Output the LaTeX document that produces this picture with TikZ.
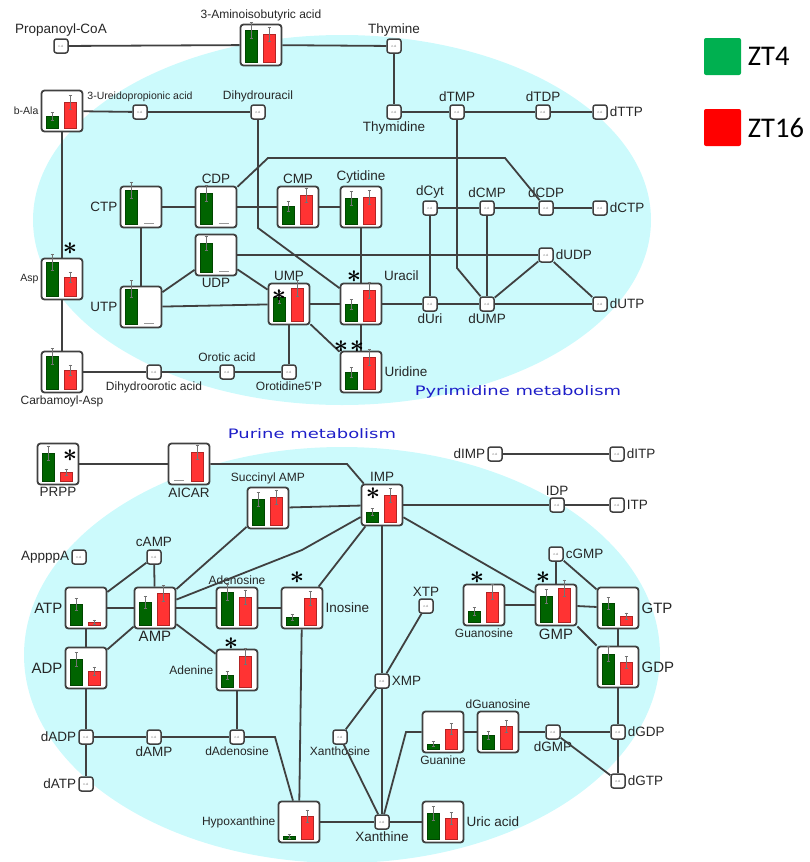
\documentclass[tikz,border=0pt]{standalone}
\usepackage{fontspec}
\setmainfont{Liberation Sans}
\newfontfamily\legendfont{Carlito}
\newfontfamily\titlefont{DejaVu Sans}
\begin{document}
\begin{tikzpicture}[x=1pt,y=-1pt,label distance=1.5pt]
  % Local definitions
  \def\onebar#1#2#3{%
    \ifnum#2=0
      \draw[zero bar] (#1+1,16.5) -- (#1+11,16.5);
    \else
      \filldraw[#3] (#1,17) rectangle (#1+12,17-#2);
      \pgfmathsetmacro\errlen{1.5+0.2*#2}
      \draw[error bar] (#1+6,17-#2-\errlen) -- (#1+6,17-#2+\errlen)
        (#1+4.5,17-#2-\errlen) -- (#1+7.5,17-#2-\errlen)
        (#1+4.5,17-#2+\errlen) -- (#1+7.5,17-#2+\errlen);
    \fi}
  \def\chart#1(#2)#3#4#5{%
    \node[chart box,#5] (#1) at (#2) {};
    \begin{scope}[shift={(#1)}]
      \onebar{-16}{#3}{green bar}
      \onebar{2}{#4}{red bar}
    \end{scope}}

  % Colors
  \definecolor{poolcolor}{RGB}{204,250,252}
  \definecolor{bargreen}{RGB}{0,100,0}
  \definecolor{barred}{RGB}{255,51,51}
  \definecolor{legendgreen}{RGB}{0,176,80}
  \definecolor{legendred}{RGB}{255,0,0}
  \definecolor{titleblue}{RGB}{30,30,200}
  \colorlet{linecolor}{black!75}

  % Styles
  \tikzstyle{every label}=[font=\fontsize{13.5}{16}\selectfont,text=black!85,inner sep=0.5pt]
  \tikzstyle{lbl med}=[font=\fontsize{12}{14}\selectfont]
  \tikzstyle{lbl small}=[font=\fontsize{10.5}{12}\selectfont]
  \tikzstyle{lbl big}=[font=\fontsize{15}{18}\selectfont]
  \tikzstyle{conn}=[draw=linecolor,line width=1.8pt]
  \tikzstyle{chart box}=[draw=linecolor,line width=1.8pt,fill=white,rounded corners=3pt,minimum size=41pt,inner sep=0pt]
  \tikzstyle{nd}=[draw=linecolor,line width=1.5pt,fill=white,rounded corners=2.5pt,minimum size=14pt,inner sep=0pt,font=\fontsize{3}{3}\selectfont,text=black!60]
  \tikzstyle{green bar}=[fill=bargreen,draw=bargreen!70!black,line width=0.4pt]
  \tikzstyle{red bar}=[fill=barred,draw=barred!70!black,line width=0.4pt]
  \tikzstyle{error bar}=[draw=black!55,line width=0.4pt]
  \tikzstyle{zero bar}=[draw=black!40,line width=0.8pt]
  \tikzstyle{signif}=[inner sep=0pt,font=\fontsize{26}{26}\selectfont\boldmath]
  \tikzstyle{pathway title}=[text=titleblue,font=\titlefont\fontsize{13}{15}\selectfont]
  \tikzstyle{legend box}=[rounded corners=2pt,minimum size=37pt,inner sep=0pt]
  \tikzstyle{legend text}=[font=\legendfont\fontsize{28.5}{32}\selectfont,text=black,inner sep=5pt]

  % The graphic
  \useasboundingbox (0,0) rectangle (809,862);
  \clip (0,0) rectangle (809,862);
  \fill[poolcolor] (342,220) ellipse [x radius=309pt,y radius=185pt];
  \fill[poolcolor] (342,655) ellipse [x radius=318pt,y radius=208pt];

  % Pyrimidine metabolism
  \node[nd,label=above:Propanoyl-CoA] (propcoa) at (61,46) {n.d.};
  \chart{aiba}(261,45){32}{28}{label={[lbl med]above:3-Aminoisobutyric acid}}
  \node[nd,label=above:Thymine] (thymine) at (394,46) {n.d.};
  \node[nd,label=below:Thymidine] (thymidine) at (394,112) {n.d.};
  \node[nd,label=above:dTMP] (dtmp) at (457,112) {n.d.};
  \node[nd,label=above:dTDP] (dtdp) at (543,112) {n.d.};
  \node[nd,label=right:dTTP] (dttp) at (600,112) {n.d.};
  \chart{bala}(62,111){12}{26}{label={[lbl small]left:b-Ala}}
  \node[nd,label={[lbl small]above:3-Ureidopropionic acid}] (ureido) at (140,112) {n.d.};
  \node[nd,label={[lbl med]above:Dihydrouracil}] (dhu) at (258,112) {n.d.};
  \chart{asp}(62,279){34}{19}{label={[lbl small]left:Asp}}
  \chart{cbasp}(62,372){33}{19}{label={[lbl med]below:Carbamoyl-Asp}}
  \node[nd,label={[lbl med]below:Dihydroorotic acid}] (dho) at (154,372) {n.d.};
  \node[nd,label={[lbl med]above:Orotic acid}] (orotic) at (227,372) {n.d.};
  \node[nd,label={[lbl med]below:Orotidine5'P}] (omp) at (289,372) {n.d.};
  \chart{ctp}(141,207){34}{0}{label=left:CTP}
  \chart{cdp}(216,207){31}{0}{label=above:CDP}
  \chart{cmp}(298,207){18}{29}{label=above:CMP}
  \chart{cytidine}(361,207){26}{27}{label=above:Cytidine}
  \node[nd,label=above:dCyt] (dcyt) at (430,208) {n.d.};
  \node[nd,label=above:dCMP] (dcmp) at (487,208) {n.d.};
  \node[nd,label=above:dCDP] (dcdp) at (546,208) {n.d.};
  \node[nd,label=right:dCTP] (dctp) at (600,208) {n.d.};
  \chart{udp}(216,255){29}{0}{label=below:UDP}
  \node[nd,label=right:dUDP] (dudp) at (546,255) {n.d.};
  \chart{utp}(141,307){35}{0}{label=left:UTP}
  \chart{ump}(289,304){24}{33}{label=above:UMP}
  \chart{uracil}(361,304){17}{31}{label=above right:Uracil}
  \node[nd,label=below:dUri] (duri) at (430,304) {n.d.};
  \node[nd,label=below:dUMP] (dump) at (487,304) {n.d.};
  \node[nd,label=right:dUTP] (dutp) at (600,304) {n.d.};
  \chart{uridine}(361,372){17}{32}{label=right:Uridine}
  \coordinate (dhubend) at (258,228);
  \coordinate (cdpbend) at (268,158);
  \coordinate (dcdpbend) at (505,158);
  \coordinate (dtmpbend) at (457,268);

  \foreach \a/\b in {propcoa/aiba,aiba/thymine,thymine/thymidine,thymidine/dtmp,dtmp/dtdp,dtdp/dttp,
      bala/ureido,ureido/dhu,bala/asp,asp/cbasp,cbasp/dho,dho/orotic,orotic/omp,omp/ump,
      ctp/cdp,cdp/cmp,cmp/cytidine,dcyt/dcmp,dcmp/dcdp,dcdp/dctp,ctp/utp,utp/udp,utp/ump,udp/ump,
      udp/dudp,ump/uracil,uracil/duri,duri/dump,dump/dutp,dcyt/duri,dcmp/dump,dump/dudp,dudp/dutp,
      cytidine/uracil,uracil/uridine,ump/uridine}
    \draw[conn] (\a) -- (\b);
  \draw[conn] (dhu) -- (dhubend) -- (uracil);
  \draw[conn] (cdp) -- (cdpbend) -- (dcdpbend) -- (dcdp);
  \draw[conn] (dtmp) -- (dtmpbend) -- (dump);

  \node[signif] (s-asp) at (70,249) {$\ast$};
  \node[signif] (s-ump) at (279,296) {$\ast$};
  \node[signif] (s-uracil) at (354,277) {$\ast$};
  \node[signif] (s-uridine1) at (341,347) {$\ast$};
  \node[signif] (s-uridine2) at (357,347) {$\ast$};
  \node[pathway title] (pyrtitle) at (518,392) {\scalebox{1.38}[1]{Pyrimidine metabolism}};

  % Purine metabolism
  \chart{prpp}(58,464){28}{9}{label=below:PRPP}
  \chart{aicar}(189,464){0}{29}{label=below:AICAR}
  \chart{imp}(382,505){10}{27}{label=above:IMP}
  \chart{samp}(268,508){26}{28}{label={[lbl med]above:Succinyl AMP}}
  \node[nd,label=left:dIMP] (dimp) at (495,454) {n.d.};
  \node[nd,label=right:dITP] (ditp) at (617,454) {n.d.};
  \node[nd,label=above:IDP] (idp) at (557,505) {n.d.};
  \node[nd,label=right:ITP] (itp) at (617,505) {n.d.};
  \node[nd,label=left:AppppA] (apppa) at (79,557) {n.d.};
  \node[nd,label=above:cAMP] (camp) at (154,557) {n.d.};
  \chart{atp}(86,608){21}{3}{label={[lbl big]left:ATP}}
  \chart{amp}(155,608){23}{32}{label={[lbl big]below:AMP}}
  \chart{adenosine}(237,608){33}{28}{label={[lbl med]above:Adenosine}}
  \chart{inosine}(302,608){8}{27}{label=right:Inosine}
  \chart{adp}(86,668){26}{14}{label={[lbl big]left:ADP}}
  \chart{adenine}(237,670){12}{31}{label={[lbl med]left:Adenine}}
  \node[nd,label=above:XTP] (xtp) at (426,606) {n.d.};
  \node[nd,label=right:XMP] (xmp) at (382,681) {n.d.};
  \node[nd,label={[lbl med]below:Xanthosine}] (xanthosine) at (340,737) {n.d.};
  \node[nd,label=below:Xanthine] (xanthine) at (382,822) {n.d.};
  \node[nd,label=left:dADP] (dadp) at (86,737) {n.d.};
  \node[nd,label=below:dAMP] (damp) at (154,737) {n.d.};
  \node[nd,label={[lbl med]below:dAdenosine}] (dadenosine) at (237,737) {n.d.};
  \node[nd,label=left:dATP] (datp) at (86,784) {n.d.};
  \chart{hypox}(299,822){3}{23}{label={[lbl med]left:Hypoxanthine}}
  \chart{uric}(443,822){26}{21}{label=right:Uric acid}
  \chart{guanine}(443,732){5}{20}{label={[lbl med]below:Guanine}}
  \chart{dguo}(498,732){14}{23}{label={[lbl med]above:dGuanosine}}
  \node[nd,label=below:dGMP] (dgmp) at (553,732) {n.d.};
  \node[nd,label=right:dGDP] (dgdp) at (618,732) {n.d.};
  \node[nd,label=right:dGTP] (dgtp) at (618,781) {n.d.};
  \chart{guanosine}(484,605){11}{30}{label={[lbl med]below:Guanosine}}
  \chart{gmp}(556,605){26}{34}{label={[lbl big]below:GMP}}
  \node[nd,label=right:cGMP] (cgmp) at (556,554) {n.d.};
  \chart{gtp}(618,608){22}{9}{label={[lbl big]right:GTP}}
  \chart{gdp}(618,667){30}{22}{label={[lbl big]right:GDP}}
  \coordinate (aicarbend) at (347,464);
  \coordinate (ampbend) at (302,550);
  \coordinate (dadobend) at (275,737);
  \coordinate (guabend) at (406,732);

  \foreach \a/\b in {prpp/aicar,samp/imp,imp/idp,idp/itp,dimp/ditp,atp/amp,amp/adenosine,
      adenosine/inosine,atp/adp,atp/camp,camp/amp,amp/adp,amp/adenine,amp/samp,inosine/imp,
      imp/gmp,imp/xmp,xmp/xanthine,xtp/xmp,xmp/xanthosine,xanthosine/xanthine,inosine/hypox,
      adenine/dadenosine,adp/dadp,dadp/datp,dadp/damp,damp/dadenosine,hypox/xanthine,
      xanthine/uric,guanine/dguo,dguo/dgmp,dgmp/dgdp,dgdp/dgtp,dgmp/dgtp,gdp/dgdp,gtp/gdp,
      guanosine/gmp,gmp/gtp,cgmp/gmp,cgmp/gtp,gmp/gdp}
    \draw[conn] (\a) -- (\b);
  \draw[conn] (aicar) -- (aicarbend) -- (imp);
  \draw[conn] (amp) -- (ampbend) -- (imp);
  \draw[conn] (dadenosine) -- (dadobend) -- (hypox);
  \draw[conn] (xanthine) -- (guabend) -- (guanine);

  \node[signif] (s-prpp) at (70,456) {$\ast$};
  \node[signif] (s-imp) at (373,494) {$\ast$};
  \node[signif] (s-inosine) at (297,578) {$\ast$};
  \node[signif] (s-adenine) at (231,644) {$\ast$};
  \node[signif] (s-guanosine) at (477,578) {$\ast$};
  \node[signif] (s-gmp) at (543,578) {$\ast$};
  \node[pathway title] (purtitle) at (312,434) {\scalebox{1.38}[1]{Purine metabolism}};

  % Legend
  \node[legend box,fill=legendgreen,label={[legend text]right:ZT4}] (zt4) at (722.5,56.5) {};
  \node[legend box,fill=legendred,label={[legend text]right:ZT16}] (zt16) at (722.5,127.5) {};
\end{tikzpicture}
\end{document}
